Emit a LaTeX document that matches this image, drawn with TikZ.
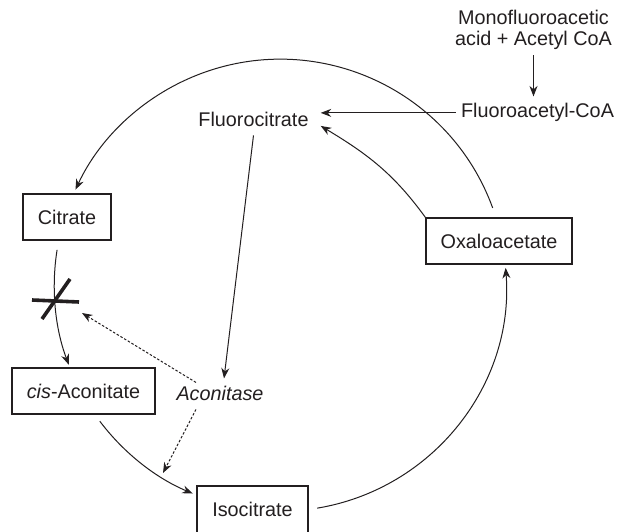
\documentclass[tikz,border=0pt]{standalone}
\usepackage{fontspec}
\setmainfont{Liberation Sans}
\usetikzlibrary{arrows.meta}
\definecolor{ink}{HTML}{231F20}
\begin{document}
\begin{tikzpicture}[x=1pt,y=1pt,color=ink,
  font=\fontsize{19.8}{21}\selectfont,
  box/.style={draw, line width=1.2pt, inner sep=0pt},
  lbl/.style={inner sep=0pt, anchor=base},
  arr/.style={line width=1pt, -{Stealth[length=10.5pt,width=8pt]}},
  dotarr/.style={line width=1pt, dash pattern=on 2.5pt off 1.8pt, -{Stealth[length=10.5pt,width=8pt]}},
  crossbar/.style={line width=3.6pt}
]
\fill[white] (0,0) rectangle (622,531);
\useasboundingbox (0,0) rectangle (622,531);

% boxes
\node[box, minimum width=88pt, minimum height=46pt] (cit) at (67,314) {Citrate};
\node[box, minimum width=143pt, minimum height=46pt] (cis) at (83.5,140) {\textit{cis}-Aconitate};
\node[box, minimum width=111pt, minimum height=47pt] (iso) at (252.5,21.5) {Isocitrate};
\node[box, minimum width=146pt, minimum height=46pt] (oxa) at (499,290) {Oxaloacetate};

% labels
\node[lbl] (mono1) at (533.5,506) {Monofluoroacetic};
\node[lbl, inner ysep=5pt] (mono2) at (533.5,485) {acid + Acetyl CoA};
\node[lbl, inner xsep=5pt, inner ysep=7pt] (facoa) at (537.5,413) {Fluoroacetyl-CoA};
\node[lbl, inner xsep=12pt, inner ysep=8pt] (fcit) at (253.5,404) {Fluorocitrate};
\node[lbl, inner xsep=0pt, inner ysep=8pt, font=\fontsize{19.8}{21}\selectfont\itshape] (acon) at (220,130) {Aconitase};

% straight connectors
\draw[arr] (mono2.south) -- (mono2.south |- facoa.north);
\draw[arr] (facoa.west) -- (facoa.west -| fcit.east);
\draw[arr] (oxa.north west) to[out=126,in=-31] ([yshift=-6pt]fcit.east);
\draw[arr] (fcit.south) -- ([xshift=4pt]acon.north);

% cycle arcs
\coordinate (O) at (280.3,245.8);
\draw[arr] ([shift={(20:226)}]O) arc[start angle=20,end angle=155,radius=226];
\draw[arr] ([shift={(171:226)}]O) arc[start angle=171,end angle=200.6,radius=226];
\draw[arr] ([shift={(217:226)}]O) arc[start angle=217,end angle=247.2,radius=226];
\draw[arr] ([shift={(-80.6:226)}]O) arc[start angle=-80.6,end angle=4.4,radius=226];

% block cross
\draw[crossbar] (32,231) -- (79,229);
\draw[crossbar] (42,212) -- (70,252);

% dotted enzyme arrows
\coordinate (blk) at (82,218);
\coordinate (isoin) at (163,58);
\draw[dotarr] ([xshift=-24pt,yshift=-4pt]acon.north) -- (blk);
\draw[dotarr] ([xshift=-24pt]acon.south) -- (isoin);
\end{tikzpicture}
\end{document}
